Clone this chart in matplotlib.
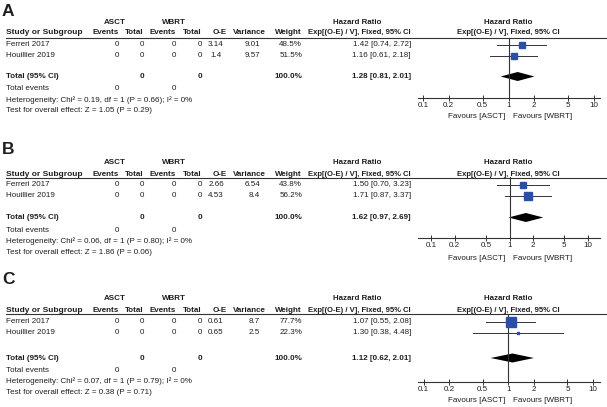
import numpy as np
import matplotlib
matplotlib.use("Agg")
import matplotlib.pyplot as plt

plt.rcParams['font.family'] = ['Liberation Sans', 'DejaVu Sans']

# data for the three forest plots
studies = ["Ferreri 2017", "Houillier 2019"]
asct_events = [0, 0]
asct_total = [0, 0]
wbrt_events = [0, 0]
wbrt_total = [0, 0]

letters = ["A", "B", "C"]
oe = [[3.14, 1.4], [2.66, 4.53], [0.61, 0.65]]
variance = [[9.01, 9.57], [6.54, 8.4], [8.7, 2.5]]
weight = [[48.5, 51.5], [43.8, 56.2], [77.7, 22.3]]
hr = [[1.42, 1.16], [1.50, 1.71], [1.07, 1.30]]
hr_lo = [[0.74, 0.61], [0.70, 0.87], [0.55, 0.38]]
hr_hi = [[2.72, 2.18], [3.23, 3.37], [2.08, 4.48]]
tot_hr = [1.28, 1.62, 1.12]
tot_lo = [0.81, 0.97, 0.62]
tot_hi = [2.01, 2.69, 2.01]
chi2 = [0.19, 0.06, 0.07]
chi_p = [0.66, 0.80, 0.79]
z_val = [1.05, 1.86, 0.38]
z_p = [0.29, 0.06, 0.71]
xticks = [0.1, 0.2, 0.5, 1, 2, 5, 10]
xticklabels = ["0.1", "0.2", "0.5", "1", "2", "5", "10"]

# pixel layout of each panel
lay = [
    dict(letter=11, grp=23, hdr=33, line=37.5, rows=[44.5, 55.5], tot=76.5, tev=89,
         het=100, test=111, axis=98, fav=116, x01=423, x10=594),
    dict(letter=150, grp=162, hdr=174, line=177.5, rows=[184.5, 195.5], tot=217.5, tev=230,
         het=241, test=252, axis=238, fav=258, x01=431, x10=588),
    dict(letter=280, grp=299, hdr=310.5, line=314, rows=[321.5, 333], tot=358, tev=370,
         het=381, test=392, axis=382, fav=401, x01=423.5, x10=593),
]

W, H = 607, 407
fig = plt.figure(figsize=(W / 100, H / 100), dpi=100)
bg = fig.add_axes([0, 0, 1, 1])
bg.set_xlim(0, W)
bg.set_ylim(H, 0)
bg.axis('off')

tc = '#1e1e1e'
lc = '#333333'
fs = 5.8
sq_col = '#2c4fa6'

def txt(x, y, s, ha='left', bold=False, size=fs):
    bg.text(x, y, s, ha=ha, va='center', fontsize=size, color=tc,
            fontweight='bold' if bold else 'normal')

ax_left, ax_right = 418, 600

for p in range(3):
    L = lay[p]
    txt(2, L['letter'], letters[p], bold=True, size=12.5)
    # group headers
    txt(115, L['grp'], "ASCT", ha='center', bold=True)
    txt(173.5, L['grp'], "WBRT", ha='center', bold=True)
    txt(357, L['grp'], "Hazard Ratio", ha='center', bold=True, size=5.7)
    txt(508, L['grp'], "Hazard Ratio", ha='center', bold=True, size=5.7)
    # column headers
    txt(6, L['hdr'], "Study or Subgroup", bold=True, size=6)
    txt(119, L['hdr'], "Events", ha='right', bold=True)
    txt(144, L['hdr'], "Total", ha='right', bold=True)
    txt(176, L['hdr'], "Events", ha='right', bold=True)
    txt(202, L['hdr'], "Total", ha='right', bold=True)
    txt(219.5, L['hdr'], "O-E", ha='center', bold=True)
    txt(249.5, L['hdr'], "Variance", ha='center', bold=True)
    txt(302, L['hdr'], "Weight", ha='right', bold=True)
    txt(359.5, L['hdr'], "Exp[(O-E) / V], Fixed, 95% CI", ha='center', bold=True, size=5.5)
    txt(508.5, L['hdr'], "Exp[(O-E) / V], Fixed, 95% CI", ha='center', bold=True, size=5.5)
    bg.plot([6, W], [L['line'], L['line']], color=lc, lw=0.8)

    for i in range(len(studies)):
        y = L['rows'][i]
        txt(6, y, studies[i])
        txt(119, y, str(asct_events[i]), ha='right')
        txt(144, y, str(asct_total[i]), ha='right')
        txt(176, y, str(wbrt_events[i]), ha='right')
        txt(202, y, str(wbrt_total[i]), ha='right')
        txt(216, y, f"{oe[p][i]:g}", ha='center')
        txt(260, y, f"{variance[p][i]:g}", ha='right')
        txt(302, y, f"{weight[p][i]:.1f}%", ha='right')
        txt(411, y, f"{hr[p][i]:.2f} [{hr_lo[p][i]:.2f}, {hr_hi[p][i]:.2f}]", ha='right')

    txt(6, L['tot'], "Total (95% CI)", bold=True)
    txt(144, L['tot'], str(sum(asct_total)), ha='right', bold=True)
    txt(202, L['tot'], str(sum(wbrt_total)), ha='right', bold=True)
    txt(302, L['tot'], f"{sum(weight[p]):.1f}%", ha='right', bold=True)
    txt(411, L['tot'], f"{tot_hr[p]:.2f} [{tot_lo[p]:.2f}, {tot_hi[p]:.2f}]", ha='right', bold=True)
    txt(6, L['tev'], "Total events")
    txt(119, L['tev'], str(sum(asct_events)), ha='right')
    txt(176, L['tev'], str(sum(wbrt_events)), ha='right')
    txt(6, L['het'], f"Heterogeneity: Chi\u00b2 = {chi2[p]:.2f}, df = 1 (P = {chi_p[p]:.2f}); I\u00b2 = 0%")
    txt(6, L['test'], f"Test for overall effect: Z = {z_val[p]:.2f} (P = {z_p[p]:.2f})")
    txt(505, L['fav'], "Favours [ASCT]", ha='right')
    txt(513, L['fav'], "Favours [WBRT]")

    # forest plot axes
    ax = fig.add_axes([ax_left / W, 1 - L['axis'] / H,
                       (ax_right - ax_left) / W, (L['axis'] - L['line']) / H])
    ax.patch.set_alpha(0)
    d = (L['x10'] - L['x01']) / 2.0
    ax.set_xscale('log')
    ax.set_xlim(0.1 * 10 ** (-(L['x01'] - ax_left) / d), 10 * 10 ** ((ax_right - L['x10']) / d))
    ax.set_ylim(L['axis'], L['line'])
    for s in ['top', 'left', 'right']:
        ax.spines[s].set_visible(False)
    ax.spines['bottom'].set_color(lc)
    ax.spines['bottom'].set_linewidth(0.8)
    ax.set_yticks([])
    ax.set_xticks(xticks)
    ax.set_xticklabels(xticklabels)
    ax.minorticks_off()
    ax.tick_params(axis='x', direction='inout', length=5, width=0.7, color=lc,
                   labelsize=fs, labelcolor=tc, pad=0.5)
    ax.axvline(1, color=lc, lw=0.8)

    for i in range(len(studies)):
        y = L['rows'][i]
        ax.plot([hr_lo[p][i], hr_hi[p][i]], [y, y], color=lc, lw=0.7)
        ax.plot([hr[p][i]], [y], marker='s', ms=0.13 * weight[p][i] * 0.72,
                color=sq_col, mec=sq_col, lw=0)
    yt = L['tot']
    ax.fill([tot_lo[p], tot_hr[p], tot_hi[p], tot_hr[p]],
            [yt, yt - 4.5, yt, yt + 4.5], color='black', lw=0)

fig.savefig('out.png', dpi=100)
